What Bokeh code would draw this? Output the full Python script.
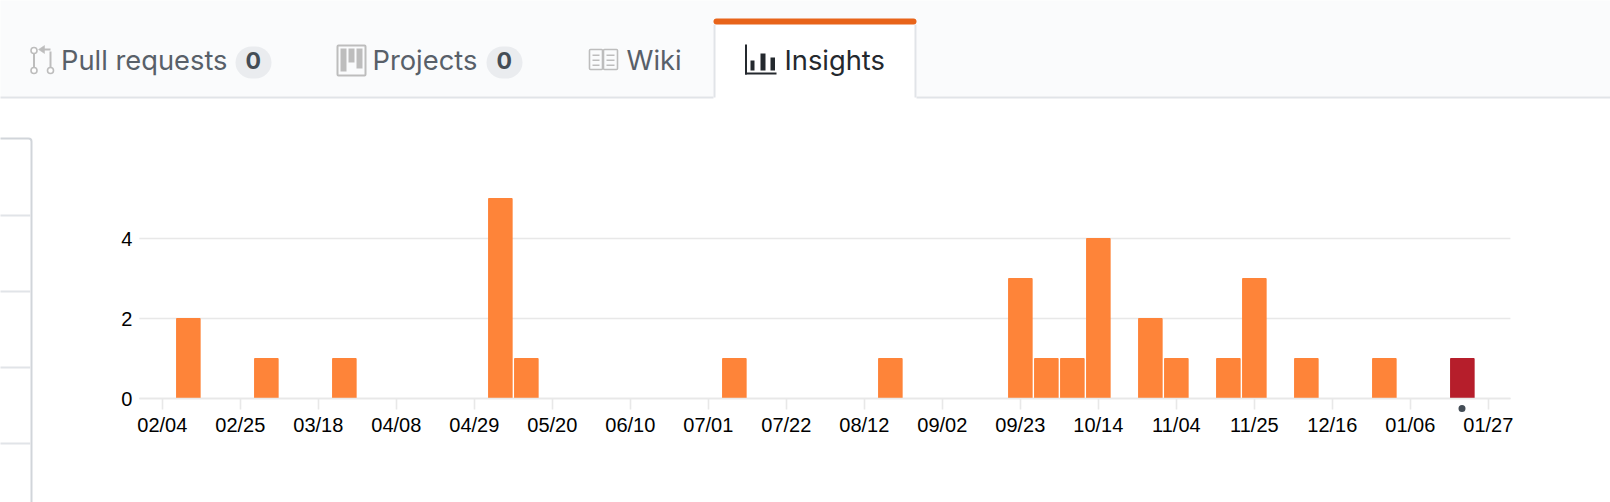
from bokeh.plotting import figure
from bokeh.models import BoxAnnotation, Label, PolyAnnotation, FixedTicker, Range1d, ColumnDataSource
from bokeh.embed import file_html
from bokeh.resources import INLINE

# ---- data
week_labels = ["02/04","02/11","02/18","02/25","03/04","03/11","03/18","03/25","04/01","04/08","04/15","04/22",
               "04/29","05/06","05/13","05/20","05/27","06/03","06/10","06/17","06/24","07/01","07/08","07/15",
               "07/22","07/29","08/05","08/12","08/19","08/26","09/02","09/09","09/16","09/23","09/30","10/07",
               "10/14","10/21","10/28","11/04","11/11","11/18","11/25","12/02","12/09","12/16","12/23","12/30",
               "01/06","01/13","01/20","01/27"]
commits = [0,2,0,0,1,0,0,1,0,0,0,0,
           0,5,1,0,0,0,0,0,0,0,1,0,
           0,0,0,0,1,0,0,0,0,3,1,1,
           4,0,2,1,0,1,3,0,1,0,0,1,
           0,0,1,0]
current_week = "01/20"
y_ticks = [0, 2, 4]

W, H = 1610, 502
BAR = "#fe8439"; RED = "#b61e2b"; AXIS = "#e8e8e8"
FONT = "Liberation Sans"; UI = "Inter"
PLOT_X0, PLOT_X1 = -0.885, 51.85   # week-axis extent of the chart area

idx = list(range(len(week_labels)))
colors = [RED if w == current_week else BAR for w in week_labels]
src = ColumnDataSource(dict(x=idx, top=commits, color=colors))

# The frame fills the page; the chart's axes sit inside it so the page chrome can share it.
p = figure(width=W, height=H, output_backend="svg", toolbar_location=None,
           x_range=Range1d(-6.225, 55.698), y_range=Range1d(-2.6, 9.95),
           min_border=0, background_fill_color="white", border_fill_color="white", outline_line_color=None)
p.xgrid.visible = False
p.ygrid.visible = False
p.segment(x0=[PLOT_X0]*len(y_ticks), x1=[PLOT_X1]*len(y_ticks), y0=y_ticks, y1=y_ticks, line_color=AXIS, line_width=1.6)
p.vbar(x="x", top="top", bottom=0, width=0.905, color="color", source=src)

p.xaxis.fixed_location = 0
p.xaxis.bounds = (PLOT_X0, PLOT_X1)
p.xaxis.ticker = FixedTicker(ticks=idx[::3])
p.xaxis.major_label_overrides = {i: week_labels[i] for i in idx[::3]}
p.xaxis.axis_line_color = AXIS; p.xaxis.axis_line_width = 1.6
p.xaxis.major_tick_line_color = AXIS; p.xaxis.major_tick_line_width = 1.6
p.xaxis.major_tick_out = 11; p.xaxis.major_tick_in = 0
p.xaxis.minor_tick_line_color = None
p.xaxis.major_label_text_font = FONT; p.xaxis.major_label_text_font_size = "20px"
p.xaxis.major_label_text_color = "#000000"; p.xaxis.major_label_standoff = 4

p.yaxis.fixed_location = PLOT_X0
p.yaxis.bounds = (0, 5)
p.yaxis.ticker = FixedTicker(ticks=y_ticks)
p.yaxis.axis_line_color = None; p.yaxis.major_tick_line_color = None; p.yaxis.minor_tick_line_color = None
p.yaxis.major_tick_in = 0; p.yaxis.major_tick_out = 0
p.yaxis.major_label_text_font = FONT; p.yaxis.major_label_text_font_size = "20px"
p.yaxis.major_label_text_color = "#000000"; p.yaxis.major_label_standoff = 7


def box(x0, y0, x1, y1, fill=None, line=None, lw=0, r=0):
    """Page chrome, in picture pixels (y measured from the top)."""
    p.add_layout(BoxAnnotation(left=x0, right=x1, top=H-y0, bottom=H-y1,
                               left_units="screen", right_units="screen", top_units="screen", bottom_units="screen",
                               fill_color=fill, fill_alpha=1 if fill else 0,
                               line_color=line, line_alpha=1 if line else 0, line_width=lw, border_radius=r))


def poly(xs, ys, fill):
    p.add_layout(PolyAnnotation(xs=list(xs), ys=[H-y for y in ys], xs_units="screen", ys_units="screen",
                                fill_color=fill, fill_alpha=1, line_color=fill, line_alpha=1, line_width=0.5))


def text(x, y, s, size, color, font=UI, weight="normal"):
    p.add_layout(Label(x=x, y=H-y, x_units="screen", y_units="screen", text=s, text_font=font,
                       text_font_size=f"{size}px", text_color=color, text_font_style=weight,
                       text_baseline="alphabetic"))


GREY = "#586069"; ICON = "#bdbdbd"; LINE = "#e1e4e8"
# tab bar
box(-5, -5, W+5, 96, fill="#fafbfc")
box(-5, 96, W+5, 98, fill=LINE)
# active tab
box(713, 24, 916, 99, fill="white")
box(713, 24, 715, 97, fill=LINE)
box(914, 24, 916, 97, fill=LINE)
box(713, 18, 916, 24, fill="#e8641a", r=3)
# side card
box(-10, 138, 31, 520, fill="white", line="#d1d5da", lw=2, r=3)
for yy in (215, 291, 367, 443):
    box(-5, yy-1, 30, yy+1, fill=LINE)
# tabs text
text(60.5, 60, "Pull requests", 27.3, GREY)
box(235, 46, 271, 78, fill="#eaecef", r=16)
text(245, 60, "0", 23, "#444d56", weight="bold")
text(372, 60, "Projects", 27.3, GREY)
box(486, 46, 522, 78, fill="#eaecef", r=16)
text(496, 60, "0", 23, "#444d56", weight="bold")
text(626, 60, "Wiki", 27.3, GREY)
text(784, 60, "Insights", 27.3, "#24292e")
# pull request icon
for cx, cy in ((33.5, 50), (33.5, 70), (50, 70)):
    box(cx-3, cy-3, cx+3, cy+3, fill="white", line=ICON, lw=1.6, r=3)
box(32.5, 53, 34.5, 67, fill=ICON)
box(49, 51, 51, 67, fill=ICON)
box(43, 48, 50, 50, fill=ICON)
poly([38, 44, 44], [49, 45, 53], ICON)
# projects icon
box(337, 45, 365, 75, fill=None, line=ICON, lw=2, r=1)
box(340, 48, 346, 71, fill=ICON)
box(348, 48, 354, 62, fill=ICON)
box(356, 48, 362, 68, fill=ICON)
# wiki icon
box(589, 49, 602, 69, fill=None, line=ICON, lw=1.6, r=1)
box(603, 49, 617, 69, fill=None, line=ICON, lw=1.6, r=1)
for yy in (54, 59, 64):
    box(592, yy, 599, yy+1.6, fill=ICON)
    box(606, yy, 614, yy+1.6, fill=ICON)
# insights icon
box(744.5, 44, 746.5, 74, fill="#24292e")
box(744.5, 72, 776, 74, fill="#24292e")
box(750, 60, 754, 70, fill="#24292e")
box(760, 53, 765, 70, fill="#24292e")
box(770, 57, 774.5, 70, fill="#24292e")
# current-week marker under the axis
box(1458, 404.5, 1465, 411.5, fill="#444d56", r=4)

open("out.html", "w").write(file_html(p, INLINE))
